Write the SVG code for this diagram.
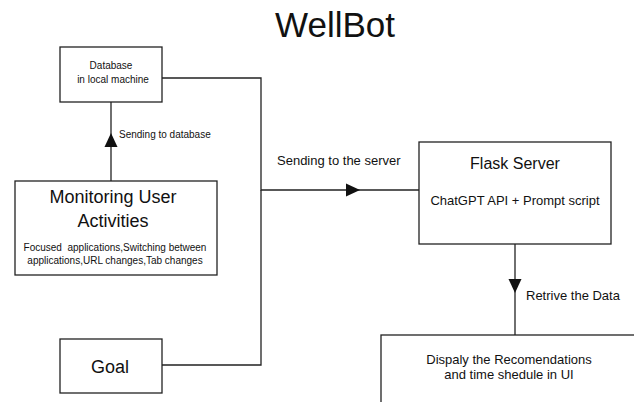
<svg xmlns="http://www.w3.org/2000/svg" width="634" height="402" viewBox="0 0 634 402">
  <style>
    text { font-family: "Liberation Sans", Arial, sans-serif; fill: #111; text-anchor: middle; }
    .box { fill: #fff; stroke: #222; stroke-width: 1.3; }
    .wire { fill: none; stroke: #222; stroke-width: 1.3; }
    .title { font-size: 35px; }
    .head { font-size: 18px; }
    .sub { font-size: 16px; }
    .body { font-size: 13px; }
    .small { font-size: 10px; }
    .keep { white-space: pre; }
    .label { font-size: 13px; text-anchor: start; }
    .label-s { font-size: 10px; text-anchor: start; }
  </style>
  <defs>
    <marker id="tri" markerUnits="userSpaceOnUse" markerWidth="14" markerHeight="14" refX="14" refY="7" orient="auto">
      <path d="M0,0.5 L14,7 L0,13.5 z" fill="#111"/>
    </marker>
  </defs>

  <rect width="634" height="402" fill="#fff"/>

  <text class="title" x="335" y="37">WellBot</text>

  <!-- connectors -->
  <g id="connectors">
    <!-- activity monitor up to the local database -->
    <path class="wire" d="M111,181 V133" marker-end="url(#tri)"/>
    <path class="wire" d="M111,133 V102"/>
    <!-- database over to the server -->
    <path class="wire" d="M162,78 H261 V190 H360" marker-end="url(#tri)"/>
    <path class="wire" d="M360,190 H419"/>
    <!-- goal joins the server feed -->
    <path class="wire" d="M162,365 H261 V190"/>
    <!-- server down to the UI -->
    <path class="wire" d="M515,244 V293" marker-end="url(#tri)"/>
    <path class="wire" d="M515,293 V335"/>
  </g>

  <g id="edge-labels">
    <text class="label-s" x="119" y="138">Sending to database</text>
    <text class="label" x="277" y="165">Sending to the server</text>
    <text class="label" x="526" y="300">Retrive the Data</text>
  </g>

  <g id="database">
    <rect class="box" x="60" y="47" width="102" height="55"/>
    <text class="small" x="111" y="69">Database</text>
    <text class="small" x="113" y="83">in local machine</text>
  </g>

  <g id="monitoring">
    <rect class="box" x="15" y="181" width="202" height="94"/>
    <text class="head" x="113" y="203">Monitoring User</text>
    <text class="head" x="113" y="227">Activities</text>
    <text class="small keep" x="115" y="251" xml:space="preserve">Focused  applications,Switching between</text>
    <text class="small" x="115" y="264">applications,URL changes,Tab changes</text>
  </g>

  <g id="goal">
    <rect class="box" x="60" y="339" width="102" height="54"/>
    <text class="head" x="110" y="373">Goal</text>
  </g>

  <g id="flask-server">
    <rect class="box" x="419" y="142" width="192" height="102"/>
    <text class="sub" x="515" y="169">Flask Server</text>
    <text class="body" x="515" y="205">ChatGPT API + Prompt script</text>
  </g>

  <g id="display-ui">
    <rect class="box" x="381" y="335" width="260" height="80"/>
    <text class="body" x="509" y="364">Dispaly the Recomendations</text>
    <text class="body" x="509" y="379">and time shedule in UI</text>
  </g>
</svg>
